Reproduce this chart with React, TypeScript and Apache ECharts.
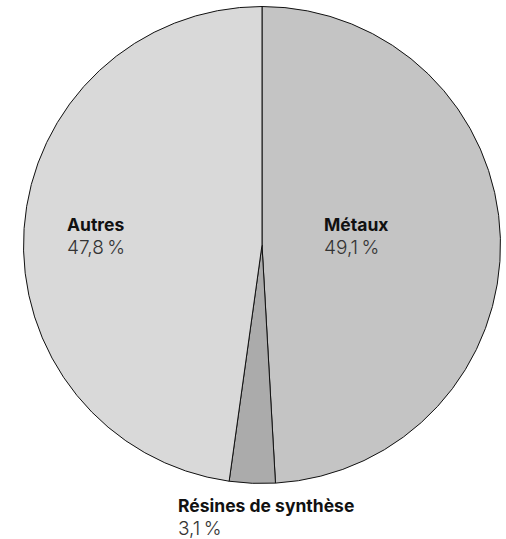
import React, { useEffect, useRef } from "react";
import * as echarts from "echarts";

const categories = ["Métaux", "Résines de synthèse", "Autres"];
const values = [49.1, 3.1, 47.8];
const colors = ["#c4c4c4", "#ababab", "#d9d9d9"];
// label anchor (left, top) for each slice
const labelAnchors: [number, number][] = [
  [324, 213],
  [178, 494],
  [67, 213],
];

const FONT = "Inter, 'Noto Sans', sans-serif";

export default function App() {
  const ref = useRef<HTMLDivElement>(null);
  useEffect(() => {
    document.body.style.margin = "0";
    const chart = echarts.init(ref.current!, undefined, { renderer: "svg" });
    chart.setOption({
      animation: false,
      backgroundColor: "#ffffff",
      series: [
        {
          type: "pie",
          center: [262, 245],
          radius: 238.5,
          startAngle: 90,
          clockwise: true,
          avoidLabelOverlap: false,
          itemStyle: { borderColor: "#111111", borderWidth: 1 },
          emphasis: { disabled: true },
          labelLine: { show: false },
          label: {
            show: true,
            position: "inside",
            fontFamily: FONT,
            formatter: (p: any) =>
              `{n|${p.name}}\n{v|${p.value.toFixed(1).replace(".", ",")}\u2009%}`,
            rich: {
              n: { fontFamily: FONT, fontSize: 17.5, fontWeight: 700, color: "#111111", lineHeight: 23, align: "left" },
              v: { fontFamily: FONT, fontSize: 19, fontWeight: 300, color: "#333333", lineHeight: 23, align: "left" },
            },
          },
          labelLayout: (params: any) => {
            const a = labelAnchors[params.dataIndex];
            return { x: a[0], y: a[1], align: "left", verticalAlign: "top" };
          },
          data: categories.map((c, i) => ({
            name: c,
            value: values[i],
            itemStyle: { color: colors[i] },
          })),
        },
      ],
    });
    return () => chart.dispose();
  }, []);
  return <div ref={ref} style={{ width: 506, height: 539 }} />;
}
